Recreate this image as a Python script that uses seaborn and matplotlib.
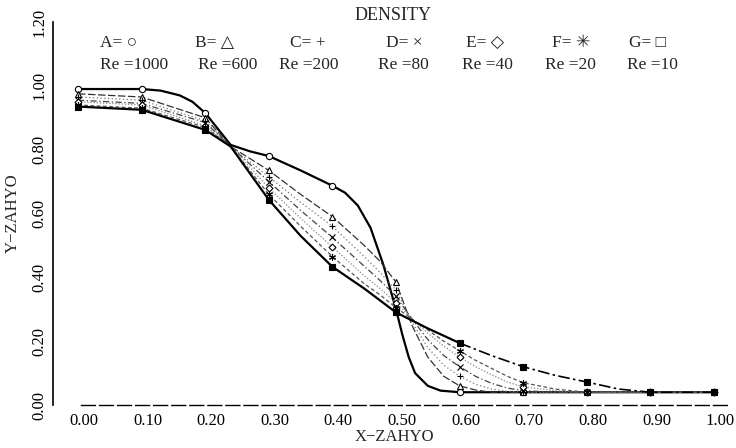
import numpy as np
import pandas as pd
import matplotlib
matplotlib.use("Agg")
import matplotlib.pyplot as plt
import matplotlib.transforms as mtransforms
import seaborn as sns

# ---------------- data ----------------
title = "DENSITY"
series_names = ["A", "B", "C", "D", "E", "F", "G"]
symbols = ["○", "△", "+", "×", "◇", "✳", "□"]
reynolds = [1000, 600, 200, 80, 40, 20, 10]

x_ticks = [0.0, 0.1, 0.2, 0.3, 0.4, 0.5, 0.6, 0.7, 0.8, 0.9, 1.0]
x_tick_labels = ["0.00", "0.10", "0.20", "0.30", "0.40", "0.50", "0.60", "0.70", "0.80", "0.90", "1.00"]
y_ticks = [0.0, 0.2, 0.4, 0.6, 0.8, 1.0, 1.2]
y_tick_labels = ["0.00", "0.20", "0.40", "0.60", "0.80", "1.00", "1.20"]

a_x = [0.0, 0.05, 0.1, 0.13, 0.16, 0.18, 0.2, 0.22, 0.24, 0.27, 0.3, 0.35, 0.4, 0.42, 0.44,
       0.46, 0.48, 0.5, 0.51, 0.52, 0.53, 0.55, 0.57, 0.6, 0.7, 0.8, 0.9, 1.0]
a_y = [0.99, 0.99, 0.99, 0.985, 0.97, 0.95, 0.915, 0.865, 0.815, 0.795, 0.78, 0.735, 0.687, 0.665, 0.625,
       0.555, 0.44, 0.30, 0.22, 0.15, 0.10, 0.06, 0.045, 0.04, 0.04, 0.04, 0.04, 0.04]

mid_x = [0.0, 0.1, 0.2, 0.24, 0.3, 0.35, 0.4, 0.45, 0.475, 0.5, 0.525, 0.55, 0.575, 0.6,
         0.625, 0.65, 0.675, 0.7, 0.75, 0.8, 0.9, 1.0]
b_y = [0.975, 0.965, 0.90, 0.81, 0.735, 0.66, 0.59, 0.50, 0.45, 0.385, 0.25, 0.15, 0.09, 0.06,
       0.047, 0.04, 0.04, 0.04, 0.04, 0.04, 0.04, 0.04]
c_y = [0.965, 0.955, 0.89, 0.81, 0.715, 0.635, 0.56, 0.465, 0.415, 0.36, 0.26, 0.18, 0.125, 0.09,
       0.065, 0.05, 0.043, 0.04, 0.04, 0.04, 0.04, 0.04]
d_y = [0.955, 0.945, 0.885, 0.81, 0.70, 0.61, 0.525, 0.435, 0.39, 0.34, 0.27, 0.205, 0.155, 0.12,
       0.09, 0.068, 0.053, 0.045, 0.04, 0.04, 0.04, 0.04]
e_y = [0.95, 0.94, 0.875, 0.81, 0.68, 0.585, 0.495, 0.405, 0.365, 0.32, 0.27, 0.225, 0.185, 0.15,
       0.12, 0.095, 0.072, 0.057, 0.045, 0.04, 0.04, 0.04]
f_y = [0.94, 0.93, 0.87, 0.81, 0.66, 0.56, 0.465, 0.38, 0.345, 0.305, 0.27, 0.235, 0.20, 0.17,
       0.14, 0.115, 0.09, 0.07, 0.05, 0.04, 0.04, 0.04]

g_x = [0.0, 0.1, 0.2, 0.24, 0.3, 0.35, 0.4, 0.45, 0.5, 0.55, 0.6, 0.65, 0.7, 0.75, 0.8, 0.85, 0.9, 1.0]
g_y = [0.935, 0.925, 0.862, 0.81, 0.643, 0.53, 0.433, 0.365, 0.29, 0.24, 0.194, 0.155, 0.12, 0.093,
       0.072, 0.05, 0.04, 0.04]

series_x = [a_x, mid_x, mid_x, mid_x, mid_x, mid_x, g_x]
series_y = [a_y, b_y, c_y, d_y, e_y, f_y, g_y]

# ---------------- styles ----------------
line_colors = ["#000000", "#333333", "#777777", "#444444", "#888888", "#555555", "#000000"]
line_styles = ["-", (0, (6, 2)), (0, (1, 2)), (0, (5, 2, 1, 2)), (0, (1, 1.5)), (0, (3, 2)), "-"]
line_widths = [1.6, 0.9, 0.9, 0.9, 0.9, 0.9, 1.6]
markers = ["o", "^", "+", "x", "D", (6, 2, 0), "s"]
marker_sizes = [4.5, 4.5, 5, 4.5, 3.5, 5, 4]
marker_faces = ["white", "white", "black", "black", "white", "black", "black"]

sns.set_style("white")
serif = ["Liberation Serif", "DejaVu Serif", "DejaVu Sans"]
plt.rcParams["font.family"] = serif
plt.rcParams["font.size"] = 12

W, H = 736, 448
X0, XS = 78, 636   # pixel of x=0 and pixels per unit x
fig = plt.figure(figsize=(W / 100, H / 100), dpi=100)
ax = fig.add_axes([53 / W, 1 - 405 / H, (735 - 53) / W, (405 - 22) / H])

for i, name in enumerate(series_names):
    df = pd.DataFrame({"x": series_x[i], "y": series_y[i]})
    if name == "G":
        # solid through the steep part, dash-dot on the tail (as in the original)
        head = df[df["x"] <= 0.6]
        tail = df[df["x"] >= 0.6]
        sns.lineplot(data=head, x="x", y="y", ax=ax, color=line_colors[i], linewidth=line_widths[i],
                     linestyle="-", sort=False, estimator=None)
        sns.lineplot(data=tail, x="x", y="y", ax=ax, color=line_colors[i], linewidth=1.2,
                     linestyle=(0, (7, 2, 1.5, 2)), sort=False, estimator=None)
    else:
        sns.lineplot(data=df, x="x", y="y", ax=ax, color=line_colors[i], linewidth=line_widths[i],
                     linestyle=line_styles[i], sort=False, estimator=None)
    xs = np.array(series_x[i])
    idx = [k for k, v in enumerate(xs) if np.isclose(v * 10, round(v * 10))]
    mdf = df.iloc[idx]
    ax.plot(mdf["x"], mdf["y"], linestyle="none", marker=markers[i], markersize=marker_sizes[i],
            markerfacecolor=marker_faces[i], markeredgecolor="black", markeredgewidth=0.8, zorder=5)

ax.set_xlim((53 - X0) / XS, (735 - X0) / XS)
ax.set_ylim(0, 1.2)

ax.set_xticks(x_ticks)
ax.set_xticklabels(x_tick_labels)
ax.set_yticks(y_ticks)
ax.set_yticklabels(y_tick_labels, rotation=90, va="center")
ax.tick_params(axis="both", direction="in", length=3, width=0.8, colors="black", labelsize=12)
ax.tick_params(axis="x", pad=6)
ax.tick_params(axis="y", pad=4)

# the printed x labels sit slightly to the right of their ticks
shift = mtransforms.ScaledTranslation(6 / 100, 0, fig.dpi_scale_trans)
for lab in ax.get_xticklabels():
    lab.set_transform(lab.get_transform() + shift)

for s in ["top", "right"]:
    ax.spines[s].set_visible(False)
ax.spines["left"].set_color("black")
ax.spines["left"].set_linewidth(1.2)
ax.spines["bottom"].set_color("black")
ax.spines["bottom"].set_linewidth(1.0)
ax.spines["bottom"].set_linestyle((0, (10, 3)))
ax.spines["bottom"].set_bounds(0.005, 1.025)

ax.set_xlabel("X−ZAHYO", fontsize=12, labelpad=0)
ax.set_ylabel("Y−ZAHYO", fontsize=12, labelpad=8)

# title and legend text
fig.text(393 / W, 1 - 16 / H, title, ha="center", va="center", fontsize=13, family=serif)
row1_x = [119, 215, 308, 404, 485, 571, 648]
row2_x = [134, 228, 309, 403, 487, 570, 652]
for i, name in enumerate(series_names):
    fig.text(row1_x[i] / W, 1 - 43 / H, f"{name}= {symbols[i]}", ha="center", va="center",
             fontsize=12.5, family=serif)
    fig.text(row2_x[i] / W, 1 - 65 / H, f"Re ={reynolds[i]}", ha="center", va="center",
             fontsize=12.5, family=serif)

fig.savefig("out.png", dpi=100, facecolor="white")
